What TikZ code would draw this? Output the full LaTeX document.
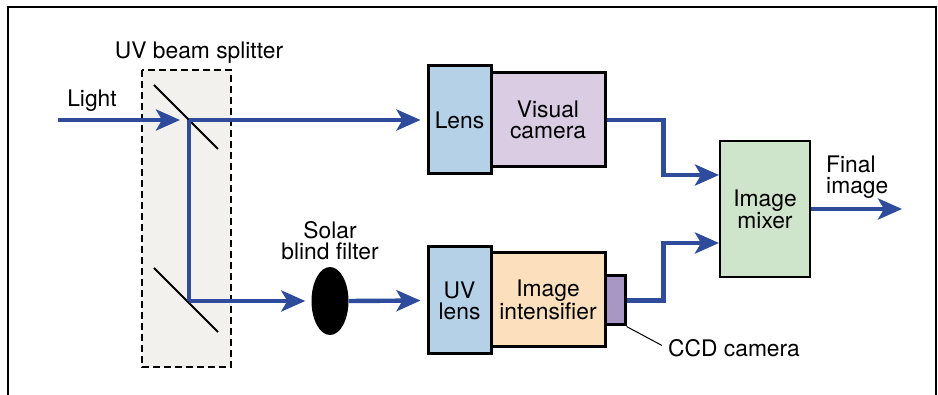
\documentclass[tikz,border=0pt]{standalone}
\usepackage{fontspec}
\setmainfont{TeX Gyre Heros}
\usetikzlibrary{arrows.meta,shapes.geometric}
\definecolor{beamblue}{HTML}{2F4B9B}
\definecolor{lensblue}{HTML}{B5D1E8}
\definecolor{camviolet}{HTML}{D9CCE3}
\definecolor{intorange}{HTML}{FCE0BE}
\definecolor{ccdviolet}{HTML}{A897C4}
\definecolor{mixgreen}{HTML}{CFE5CB}
\definecolor{splitgray}{HTML}{F2F1EE}
\tikzset{
  beam/.style={draw=beamblue,line width=4.4pt,-{Stealth[length=24pt,width=21pt,inset=6pt]}},
  beamline/.style={draw=beamblue,line width=4.4pt},
  box/.style={draw=black,line width=3pt,inner sep=0pt,align=center,font=\fontsize{22.8}{21}\selectfont},
  lbl/.style={inner sep=0pt,align=center,font=\fontsize{22.8}{21}\selectfont},
  mirror/.style={draw=black,line width=2pt},
}
\begin{document}
\begin{tikzpicture}[x=1pt,y=-1pt]
\useasboundingbox (0,0) rectangle (938,395);
\fill[white] (0,0) rectangle (938,395);
% outer frame
\draw[line width=1.5pt] (8,395) -- (8,7) -- (936,7) -- (936,395);
% beam splitter
\draw[fill=splitgray,line width=1.5pt,dash pattern=on 7pt off 4pt] (142,70) rectangle (231,367);
\node[lbl,anchor=base] (splitlbl) at (199,59) {UV beam splitter};
\draw[mirror] (154,85) -- (218,149);
\draw[mirror] (154,268) -- (218,332);
\coordinate (lightin) at (58,120);
\coordinate (splitA) at (189,120);
\coordinate (splitB) at (189,301);
\node[lbl,anchor=base] (lightlbl) at (92,107) {Light};
% boxes
\node[box,fill=camviolet,minimum width=114pt,minimum height=94pt] (vis) at (548,120) {Visual\\camera};
\node[box,fill=lensblue,minimum width=63pt,minimum height=108pt] (lens) at (459.5,120) {Lens};
\node[box,fill=intorange,minimum width=114pt,minimum height=94pt] (int) at (548,300) {Image\\intensifier};
\node[box,fill=lensblue,minimum width=63pt,minimum height=107pt] (uvlens) at (459.5,300.5) {UV\\lens};
\node[box,fill=ccdviolet,minimum width=20pt,minimum height=49pt] (ccd) at (615,300.5) {};
\node[box,line width=2pt,fill=mixgreen,minimum width=90pt,minimum height=136pt] (mix) at (765,209) {Image\\mixer};
\node[ellipse,fill=black,inner sep=0pt,minimum width=37pt,minimum height=68pt] (filt) at (330,301) {};
% labels
\node[lbl] (filtlbl) at (330,241) {Solar\\blind filter};
\node[lbl,align=left,anchor=west] (finlbl) at (826,177) {Final\\image};
\node[lbl,anchor=base west] (ccdlbl) at (668,357) {CCD camera};
\draw[line width=1pt,shorten >=7pt] (ccd.south east) -- (ccdlbl.west);
% beams
\draw[beam,shorten >=9pt] (lightin) -- (splitA);
\draw[beam,shorten >=6pt] (splitA) -- (lens.west);
\draw[beamline] (splitA) -- (splitB);
\draw[beam,shorten >=6pt] (splitB) -- (filt.west);
\draw[beam,shorten >=6pt] (filt.east) -- (uvlens.west);
\draw[beam] (vis.east) -- ++(57,0) |- ([yshift=34pt]mix.west);
\draw[beam] (ccd.east) -- ++(37,0) |- ([yshift=-34pt]mix.west);
\draw[beam] (mix.east) -- ++(91,0);
\end{tikzpicture}
\end{document}
